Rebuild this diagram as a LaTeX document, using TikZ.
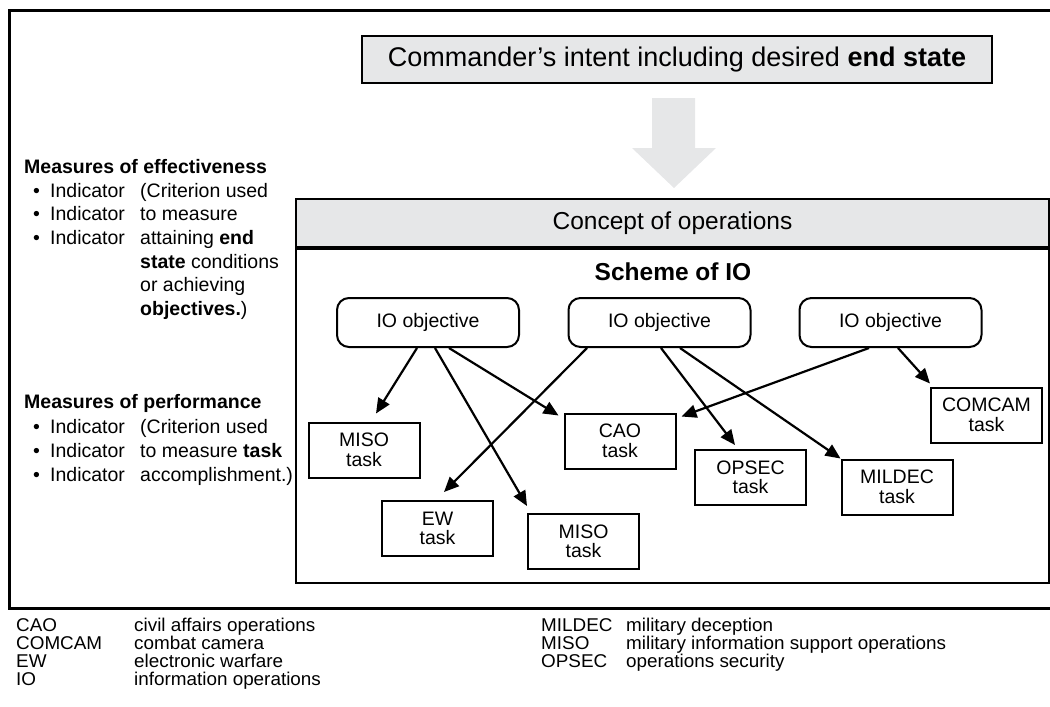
\documentclass[tikz,border=0pt]{standalone}
\usepackage{fontspec}
\setmainfont{Liberation Sans}
\newfontfamily\keyfont[FakeStretch=1.02]{Liberation Sans}
\usetikzlibrary{arrows.meta}

\definecolor{boxgray}{HTML}{E6E7E8}

\tikzset{
  objbox/.style={draw, line width=2pt, rounded corners=12pt, minimum width=182pt,
    minimum height=49pt, font=\fontsize{19.5}{20}\selectfont},
  taskbox/.style={draw, line width=2pt, minimum width=111pt, minimum height=55pt,
    align=center, font=\fontsize{19.5}{19.5}\selectfont},
  conn/.style={line width=2.2pt, -{Triangle[length=15pt,width=13pt]}},
  lefttxt/.style={anchor=base west, inner sep=0pt, font=\fontsize{19.5}{23}\selectfont},
  keytxt/.style={anchor=base west, inner sep=0pt, font=\keyfont\fontsize{18.5}{18.5}\selectfont},
}

\begin{document}
\begin{tikzpicture}[x=1pt, y=-1pt]
  \useasboundingbox (0,0) rectangle (1050,707);
  % outer frame
  \draw[line width=3pt] (1050,10) -- (9,10) -- (9,608) -- (1050,608);

  \node[draw, line width=2pt, fill=boxgray, minimum width=630pt, minimum height=47pt,
    font=\fontsize{27}{27}\selectfont] (intent) at (677,59.5)
    {Commander's intent including desired \textbf{end state}};
  % big arrow down
  \fill[boxgray] (652,98) -- (695,98) -- (695,148) -- (716,148) -- (674,188)
    -- (632,148) -- (652,148) -- cycle;

  \node[draw, line width=2pt, minimum width=753pt, minimum height=334pt, anchor=north]
    (schemebox) at (672.5,248) {};
  \node[draw, line width=2pt, fill=boxgray, minimum width=753pt, minimum height=48pt,
    anchor=south, font=\fontsize{24.5}{25}\selectfont] (conops) at (schemebox.north)
    {Concept of operations};
  \node[font=\bfseries\fontsize{24.5}{25}\selectfont] (scheme) at (673,272) {Scheme of IO};

  \node[objbox] (objA) at (428,322.5) {IO objective};
  \node[objbox] (objB) at (659.5,322.5) {IO objective};
  \node[objbox] (objC) at (890.5,322.5) {IO objective};

  \node[taskbox] (misoA) at (364,450) {MISO\\task};
  \node[taskbox] (cao) at (620,441) {CAO\\task};
  \node[taskbox] (opsec) at (750.5,477.5) {OPSEC\\task};
  \node[taskbox] (mildec) at (897,487) {MILDEC\\task};
  \node[taskbox] (comcam) at (986.5,415) {COMCAM\\task};
  \node[taskbox] (ew) at (437.5,528.5) {EW\\task};
  \node[taskbox] (misoB) at (583.5,541.5) {MISO\\task};

  \draw[conn] ([xshift=-11pt]objA.south) -- ([xshift=12pt,yshift=8pt]misoA.north);
  \draw[conn] ([xshift=7pt]objA.south) -- ([yshift=7pt]misoB.north west);
  \draw[conn] ([xshift=21pt]objA.south) -- ([xshift=-5pt,yshift=-3pt]cao.north west);
  \draw[conn] ([xshift=-72.5pt]objB.south) -- ([xshift=6.5pt,yshift=8pt]ew.north);
  \draw[conn] ([xshift=1.5pt]objB.south) -- ([xshift=-15.5pt,yshift=4pt]opsec.north);
  \draw[conn] ([xshift=20.5pt]objB.south) -- (mildec.north west);
  \draw[conn] ([xshift=-21.5pt]objC.south) -- ([xshift=5pt,yshift=-4pt]cao.north east);
  \draw[conn] ([xshift=7.5pt]objC.south) -- ([yshift=3pt]comcam.north west);

  % measures, left side
  \node[lefttxt] (moe) at (24,173) {\textbf{Measures of effectiveness}};
  \foreach \yy [count=\i] in {197,220,244} {
    \node[lefttxt] (moeb\i) at (33,\yy) {\textbullet};
    \node[lefttxt] (moei\i) at (50,\yy) {Indicator};
  }
  \foreach \yy/\txt [count=\i] in {197/{(Criterion used}, 220/{to measure},
      244/{attaining \textbf{end}}, 268/{\textbf{state} conditions},
      291/{or achieving}, 315/{\textbf{objectives.})}}
    \node[lefttxt] (moec\i) at (140,\yy) {\txt};

  \node[lefttxt] (mop) at (24,408) {\textbf{Measures of performance}};
  \foreach \yy/\txt [count=\i] in {433/{(Criterion used}, 457/{to measure \textbf{task}},
      481/{accomplishment.)}} {
    \node[lefttxt] (mopb\i) at (33,\yy) {\textbullet};
    \node[lefttxt] (mopi\i) at (50,\yy) {Indicator};
    \node[lefttxt] (mopc\i) at (140,\yy) {\txt};
  }

  % key
  \foreach \yy/\ab/\txt [count=\i] in {631/CAO/civil affairs operations,
      649/COMCAM/combat camera, 667/EW/electronic warfare, 685/IO/information operations} {
    \node[keytxt] (keyab\i) at (16,\yy) {\ab};
    \node[keytxt] (keytx\i) at (134,\yy) {\txt};
  }
  \foreach \yy/\ab/\txt [count=\i] in {631/MILDEC/military deception,
      649/MISO/military information support operations, 667/OPSEC/operations security} {
    \node[keytxt] (keyabr\i) at (541,\yy) {\ab};
    \node[keytxt] (keytxr\i) at (626,\yy) {\txt};
  }
\end{tikzpicture}
\end{document}
